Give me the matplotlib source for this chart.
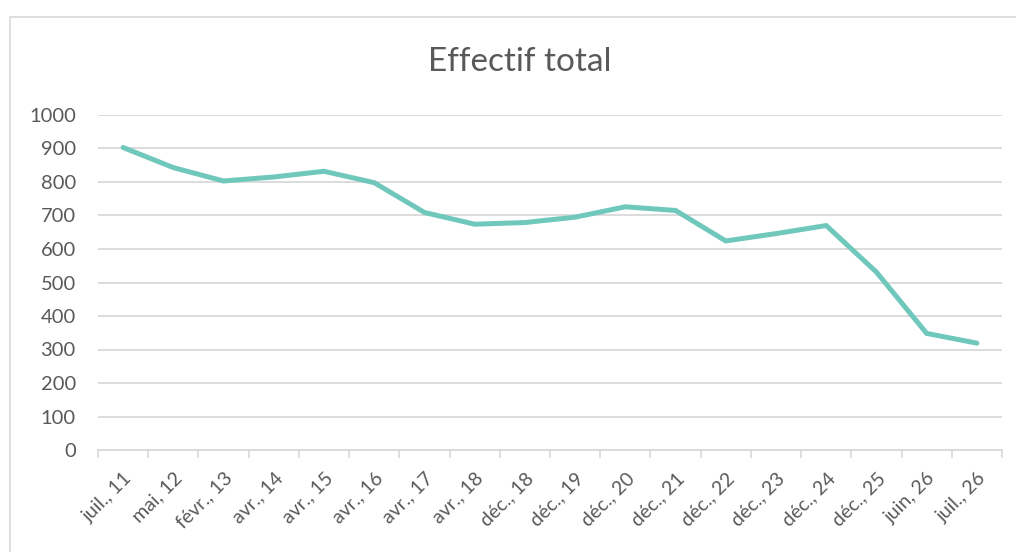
import matplotlib
matplotlib.use("Agg")
import matplotlib.pyplot as plt
from matplotlib.patches import Rectangle

categories = ["juil., 11", "mai, 12", "févr., 13", "avr., 14", "avr., 15", "avr., 16",
              "avr., 17", "avr., 18", "déc., 18", "déc., 19", "déc., 20", "déc., 21",
              "déc., 22", "déc., 23", "déc., 24", "déc., 25", "juin, 26", "juil., 26"]
effectif = [903, 843, 803, 815, 832, 798, 709, 674, 679, 695, 726, 715,
            624, 646, 670, 531, 348, 319]
y_ticks = [0, 100, 200, 300, 400, 500, 600, 700, 800, 900, 1000]

plt.rcParams['font.family'] = ['Lato', 'DejaVu Sans']
text_color = "#595959"
grid_color = "#d9d9d9"

W, H = 1016, 552
fig = plt.figure(figsize=(W / 100, H / 100), dpi=100)
fig.patch.set_facecolor("white")
fig.patches.append(Rectangle((10 / W, -0.05), 1.1, (H - 16.5) / H + 0.05,
                             transform=fig.transFigure, fill=False,
                             edgecolor=grid_color, linewidth=1.2, zorder=0))

ax = fig.add_axes([98 / W, (H - 450) / H, (1002 - 98) / W, (450 - 115) / H])
x = list(range(len(categories)))
ax.plot(x, effectif, color="#70C8BC", linewidth=3.6, solid_capstyle="round",
        solid_joinstyle="miter", zorder=3)

ax.set_xlim(-0.5, len(categories) - 0.5)
ax.set_ylim(0, 1000)
ax.set_yticks(y_ticks)
ax.set_yticklabels([str(v) for v in y_ticks])
ax.yaxis.grid(True, color=grid_color, linewidth=1.3)
ax.set_axisbelow(True)

ax.set_xticks([i - 0.5 for i in range(len(categories) + 1)])
ax.set_xticklabels([])
ax.set_xticks(x, minor=True)
ax.set_xticklabels(categories, minor=True, rotation=45, ha="right",
                   rotation_mode="anchor", color=text_color, fontsize=14)
ax.tick_params(axis="x", which="major", length=6, width=1.2, color=grid_color,
               direction="out")
ax.tick_params(axis="x", which="minor", length=0, pad=14)
ax.tick_params(axis="y", length=0, pad=16, labelcolor=text_color, labelsize=14.5)

for s in ["top", "right", "left"]:
    ax.spines[s].set_visible(False)
ax.spines["bottom"].set_color(grid_color)
ax.spines["bottom"].set_linewidth(1.3)

fig.text(520 / W, 1 - 62 / H, "Effectif total", ha="center", va="center",
         fontsize=24, color=text_color)

fig.savefig("out.png", dpi=100)
